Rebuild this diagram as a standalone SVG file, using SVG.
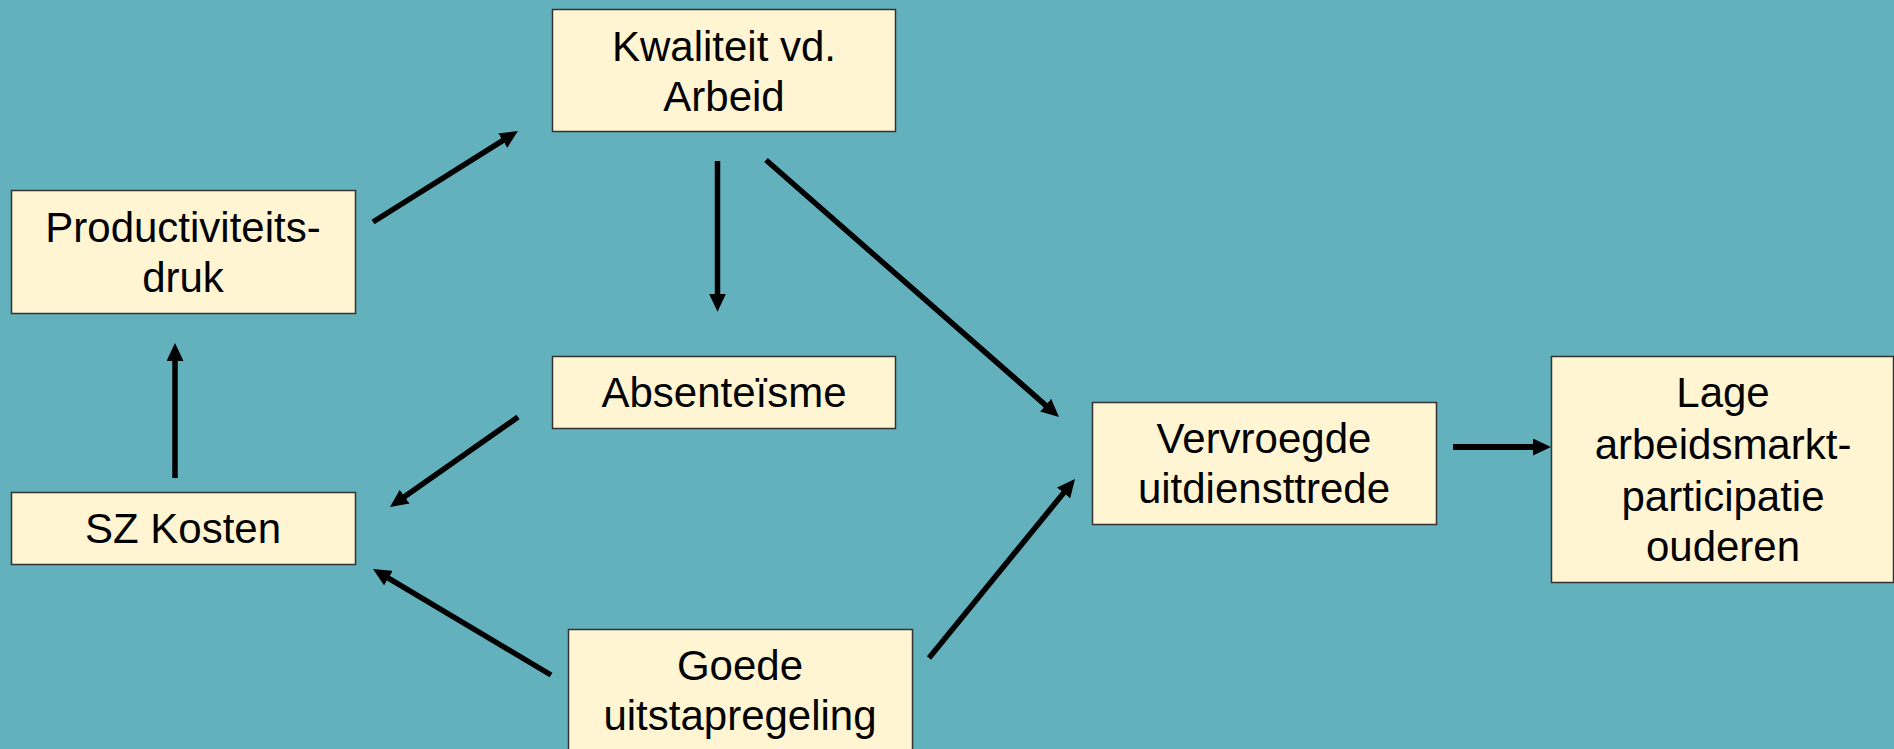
<svg xmlns="http://www.w3.org/2000/svg" width="1894" height="749" viewBox="0 0 1894 749">
<style>
.box{fill:#FFF5D3;stroke:#333;stroke-width:1.5}
.t{font-family:"Liberation Sans",Arial,sans-serif;font-size:42px;fill:#000;text-anchor:middle}
.c{stroke:#000;stroke-width:5.5;fill:none;marker-end:url(#ah)}
</style>
<defs>
<marker id="ah" markerUnits="userSpaceOnUse" markerWidth="18" markerHeight="17" refX="6" refY="8.5" orient="auto">
<path d="M0,0 L18,8.5 L0,17 z" fill="#000"/>
</marker>
</defs>
<rect width="1894" height="749" fill="#63B1BD"/>
<g id="kwaliteit"><rect class="box" x="552.5" y="9.5" width="343" height="122"/><text class="t" x="724" y="61">Kwaliteit vd.</text><text class="t" x="724" y="111">Arbeid</text></g>
<g id="productiviteit"><rect class="box" x="11.5" y="190.5" width="344" height="123"/><text class="t" x="183" y="242">Productiviteits-</text><text class="t" x="183" y="292">druk</text></g>
<g id="absenteisme"><rect class="box" x="552.5" y="356.5" width="343" height="72"/><text class="t" x="724" y="407">Absenteïsme</text></g>
<g id="szkosten"><rect class="box" x="11.5" y="492.5" width="344" height="72"/><text class="t" x="183" y="543">SZ Kosten</text></g>
<g id="goede"><rect class="box" x="568.5" y="629.5" width="344" height="130"/><text class="t" x="740" y="680">Goede</text><text class="t" x="740" y="730">uitstapregeling</text></g>
<g id="vervroegde"><rect class="box" x="1092.5" y="402.5" width="344" height="122"/><text class="t" x="1264" y="453">Vervroegde</text><text class="t" x="1264" y="503">uitdiensttrede</text></g>
<g id="lage"><rect class="box" x="1551.5" y="356.5" width="342" height="226"/><text class="t" x="1723" y="407">Lage</text><text class="t" x="1723" y="459">arbeidsmarkt-</text><text class="t" x="1723" y="511">participatie</text><text class="t" x="1723" y="561">ouderen</text></g>
<g id="connectors">
<line class="c" x1="373" y1="222" x2="507.8" y2="137.4"/>
<line class="c" x1="717.5" y1="161" x2="717.5" y2="299.7"/>
<line class="c" x1="766" y1="160" x2="1050" y2="409.1"/>
<line class="c" x1="518" y1="417" x2="399.8" y2="500.1"/>
<line class="c" x1="175" y1="478" x2="175" y2="355"/>
<line class="c" x1="551" y1="675" x2="383.3" y2="575.1"/>
<line class="c" x1="929" y1="658" x2="1067.4" y2="488.3"/>
<line class="c" style="stroke-width:6" x1="1453" y1="447" x2="1539" y2="447"/>
</g>
</svg>
